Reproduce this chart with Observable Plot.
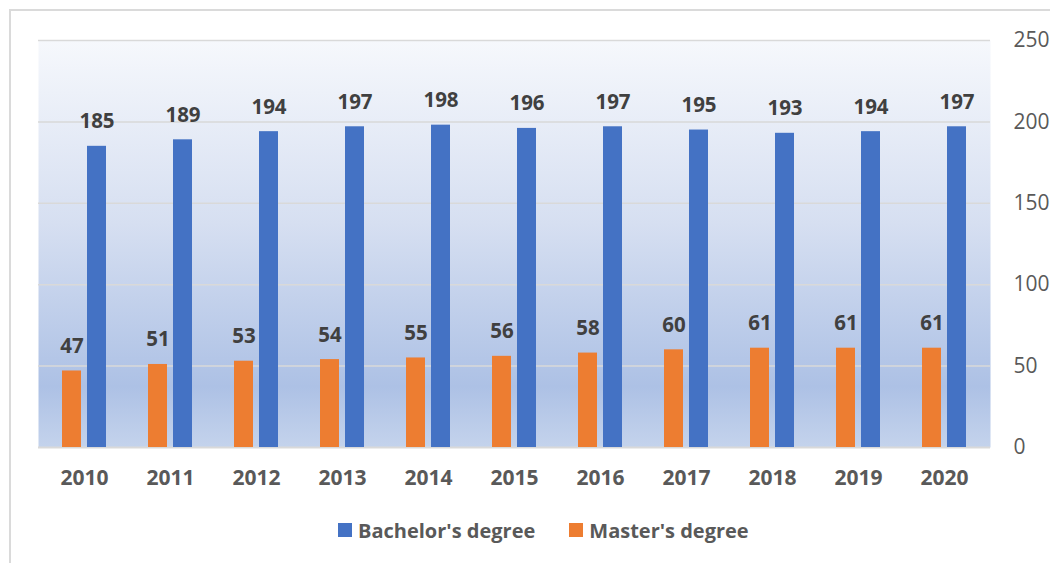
<!DOCTYPE html>
<html>
<head>
<meta charset="utf-8">
<script src="https://cdn.jsdelivr.net/npm/d3@7"></script>
<script src="https://cdn.jsdelivr.net/npm/@observablehq/plot@0.6"></script>
<style>
  html, body { margin: 0; padding: 0; background: #fff; }
  #wrap { position: relative; width: 1050px; height: 563px; overflow: hidden; font-family: "Open Sans", sans-serif; }
  #border { position: absolute; left: 9px; top: 9px; width: 1045px; height: 560px; border-left: 2px solid #dadada; border-top: 2px solid #dadada; }
  #chart { position: relative; }
  #legend { position: relative; display: flex; align-items: center; height: 28px; margin-top: 16px; margin-left: 338px; font-size: 20px; font-weight: bold; color: #595959; }
  .sw { width: 14px; height: 14px; margin-right: 6px; }
  .item { display: flex; align-items: center; margin-right: 34px; }
</style>
</head>
<body>
<div id="wrap">
  <div id="border"></div>
  <div id="chart"></div>
  <div id="legend"></div>
</div>
<script>
const years = ["2010","2011","2012","2013","2014","2015","2016","2017","2018","2019","2020"];
const bachelor = [185,189,194,197,198,196,197,195,193,194,197];
const master = [47,51,53,54,55,56,58,60,61,61,61];
const seriesNames = ["Bachelor's degree","Master's degree"];
const seriesColors = ["#4472c4","#ed7d31"];
const yTicks = [0,50,100,150,200,250];

const bachData = years.map((y, i) => ({year: y, value: bachelor[i]}));
const mastData = years.map((y, i) => ({year: y, value: master[i]}));

const labelStyle = {fontSize: 20.5, fontWeight: "bold", fill: "#404040", lineAnchor: "bottom", textAnchor: "middle"};

const svg = Plot.plot({
  width: 1050,
  height: 500,
  marginLeft: 38,
  marginRight: 60,
  marginTop: 40,
  marginBottom: 53,
  style: {fontFamily: "'Open Sans', sans-serif", background: "transparent", overflow: "visible"},
  x: {domain: years, paddingInner: 0.49, paddingOuter: 0.248, axis: null},
  y: {domain: [0, 250], axis: null},
  marks: [
    Plot.frame({fill: "url(#bgGrad)", stroke: "none"}),
    Plot.ruleY(yTicks.filter(d => d > 0), {stroke: "#d9d9d9", strokeWidth: 1.5}),
    Plot.ruleY([0], {stroke: "#d9d9d9", strokeWidth: 2}),
    Plot.barY(mastData, {x: "year", y: "value", fill: seriesColors[1], insetRight: 25}),
    Plot.barY(bachData, {x: "year", y: "value", fill: seriesColors[0], insetLeft: 25}),
    Plot.text(mastData, {x: "year", y: "value", text: d => String(d.value), dx: -12.5, dy: -18, ...labelStyle}),
    Plot.text(bachData, {x: "year", y: "value", text: d => String(d.value), dx: 12.5, dy: -18, ...labelStyle}),
    Plot.axisX({tickSize: 0, tickPadding: 23, fontSize: 21, fontWeight: "bold", fill: "#595959", label: null}),
    Plot.axisY({anchor: "right", ticks: yTicks, tickSize: 0, tickPadding: 23, fontSize: 21, fill: "#595959", label: null})
  ]
});

const defs = d3.select(svg).insert("defs", ":first-child");
const grad = defs.append("linearGradient").attr("id", "bgGrad").attr("x1", 0).attr("y1", 0).attr("x2", 0).attr("y2", 1);
[["0%","#f6f8fc"],["45%","#d6dff1"],["85%","#adc1e5"],["100%","#c4d3ec"]].forEach(([o,c]) => grad.append("stop").attr("offset", o).attr("stop-color", c));
d3.select(svg).selectAll("g[aria-label='x-axis tick label'] text").attr("font-weight", "bold");

document.getElementById("chart").appendChild(svg);

const legend = d3.select("#legend");
seriesNames.forEach((name, i) => {
  const it = legend.append("div").attr("class", "item");
  it.append("div").attr("class", "sw").style("background", seriesColors[i]);
  it.append("span").text(name);
});
</script>
</body>
</html>
